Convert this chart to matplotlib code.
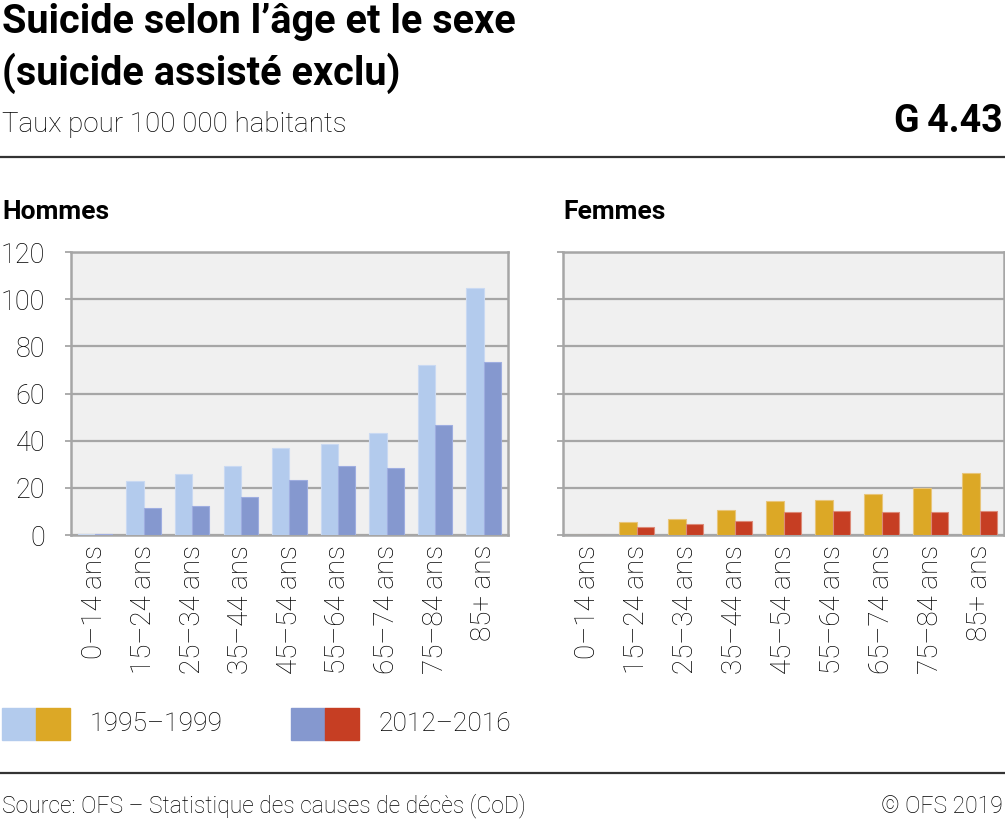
import numpy as np
import matplotlib.pyplot as plt
from matplotlib.patches import Rectangle

plt.rcParams['font.family'] = ['Roboto', 'DejaVu Sans']

categories = ['0–14 ans', '15–24 ans', '25–34 ans', '35–44 ans', '45–54 ans',
              '55–64 ans', '65–74 ans', '75–84 ans', '85+ ans']
periods = ['1995–1999', '2012–2016']

men_1995 = [0.4, 22.9, 26.0, 29.3, 36.7, 38.4, 43.4, 72.2, 104.9]
men_2012 = [0.4, 11.3, 12.5, 16.1, 23.4, 29.4, 28.2, 46.7, 73.2]
women_1995 = [0.2, 5.7, 6.9, 10.8, 14.4, 15.0, 17.5, 20.0, 26.3]
women_2012 = [0.1, 3.3, 4.7, 6.1, 9.9, 10.3, 9.6, 9.6, 10.3]

col_men = ['#b3cbed', '#8598cf']
col_women = ['#dca826', '#c63e23']
edge_men = ['#c9d9f2', '#9eade0']
edge_women = ['#e8c57a', '#dc8a78']

W, H = 1005, 822
fig = plt.figure(figsize=(W / 100, H / 100), dpi=100)

def fx(px):
    return px / W

def fy(py):
    return 1 - py / H

grid_col = '#a6a6a6'
txt = '#000000'
x = np.arange(len(categories))
bw = 0.355

axes = []
for left, right, vals, cols, edges, name, show_labels in [
        (70.7, 508, (men_1995, men_2012), col_men, edge_men, 'Hommes', True),
        (563, 1004, (women_1995, women_2012), col_women, edge_women, 'Femmes', False)]:
    ax = fig.add_axes([fx(left), fy(535), fx(right - left), (535 - 252) / H])
    ax.set_facecolor('#f0f0f0')
    ax.bar(x - bw / 2, vals[0], bw, color=cols[0], edgecolor=edges[0], linewidth=0.8, zorder=3)
    ax.bar(x + bw / 2, vals[1], bw, color=cols[1], edgecolor=edges[1], linewidth=0.8, zorder=3)
    ax.set_xlim(-0.5, len(categories) - 0.5)
    ax.set_ylim(0, 120)
    ax.set_yticks(range(0, 121, 20))
    ax.yaxis.grid(True, color=grid_col, linewidth=1.6, zorder=1)
    ax.set_axisbelow(True)
    for s in ax.spines.values():
        s.set_color(grid_col)
        s.set_linewidth(1.8)
    ax.tick_params(axis='y', length=4.5, width=1.3, color=grid_col, pad=14,
                   labelsize=19.5, labelcolor=txt)
    if not show_labels:
        ax.tick_params(axis='y', labelleft=False)
    else:
        for lab in ax.get_yticklabels():
            lab.set_horizontalalignment('right')
            lab.set_fontweight('light')
    ax.set_xticks(x)
    ax.set_xticklabels(categories, rotation=90, fontsize=20, color=txt, fontweight='light')
    ax.tick_params(axis='x', length=0, pad=7)
    fig.text(fx(left - 68 if show_labels else left), fy(212), name, fontsize=19,
             fontweight='bold', va='center', ha='left', color=txt)
    axes.append(ax)

# header
fig.text(fx(2), fy(22), 'Suicide selon l’âge et le sexe', fontsize=28.5, fontweight='bold',
         va='center', ha='left', color=txt)
fig.text(fx(2), fy(73), '(suicide assisté exclu)', fontsize=28.5, fontweight='bold',
         va='center', ha='left', color=txt)
fig.text(fx(2), fy(125), 'Taux pour 100 000 habitants', fontsize=20, fontweight='light',
         va='center', ha='left', color=txt)
fig.text(fx(1003), fy(121), 'G\u20094.43', fontsize=27, fontweight='bold',
         va='center', ha='right', color=txt)
fig.add_artist(plt.Line2D([0, 1], [fy(157), fy(157)], color='#333333', linewidth=1.6))
fig.add_artist(plt.Line2D([0, 1], [fy(773), fy(773)], color='#333333', linewidth=1.6))

# legend
legend_items = [(2, 90, col_men[0], col_women[0], periods[0]),
                (291, 378, col_men[1], col_women[1], periods[1])]
for x0, tx, c1, c2, label in legend_items:
    fig.add_artist(Rectangle((fx(x0), fy(740)), fx(34), (740 - 708) / H, color=c1,
                             transform=fig.transFigure))
    fig.add_artist(Rectangle((fx(x0 + 34), fy(740)), fx(34), (740 - 708) / H, color=c2,
                             transform=fig.transFigure))
    fig.text(fx(tx), fy(724), label, fontsize=19, fontweight='light', va='center', ha='left',
             color=txt)

# footer
fig.text(fx(2), fy(806), 'Source: OFS – Statistique des causes de décès (CoD)', fontsize=16.5,
         fontweight='light', va='center', ha='left', color=txt)
fig.text(fx(1003), fy(806), '© OFS 2019', fontsize=16.5, fontweight='light', va='center',
         ha='right', color=txt)

plt.savefig('out.png', dpi=100)
